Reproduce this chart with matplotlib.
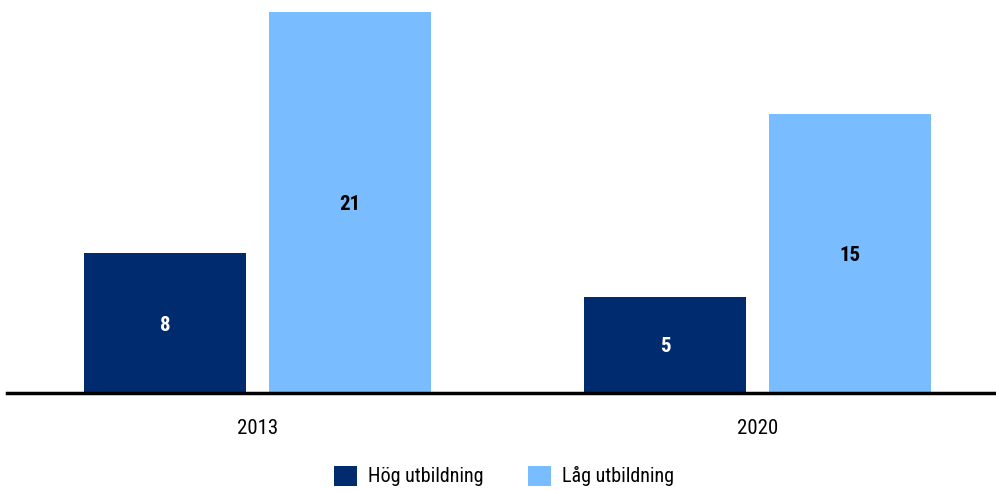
import matplotlib
matplotlib.use('Agg')
import matplotlib.pyplot as plt
from matplotlib import font_manager
import numpy as np

# pick a narrow family if one is installed
family = 'DejaVu Sans'
for cand in ['Roboto Condensed', 'Open Sans Condensed', 'Liberation Sans Narrow',
             'Noto Sans Condensed', 'Roboto', 'Liberation Sans']:
    try:
        font_manager.findfont(cand, fallback_to_default=False)
        family = cand
        break
    except Exception:
        pass
plt.rcParams['font.family'] = [family, 'DejaVu Sans']

years = ['2013', '2020']
hog = [7.7, 5.3]    # Hög utbildning
lag = [21.0, 15.4]  # Låg utbildning
series_names = ['Hög utbildning', 'Låg utbildning']

DARK = '#002B6E'
LIGHT = '#79BCFF'

fig = plt.figure(figsize=(9.96, 4.91), dpi=100)
ax = fig.add_axes([7 / 996, 98 / 491, 989 / 996, 381 / 491])

x = np.arange(len(years))
w = 0.324
off = 0.185
b1 = ax.bar(x - off, hog, w, color=DARK, label=series_names[0])
b2 = ax.bar(x + off, lag, w, color=LIGHT, label=series_names[1])

for bars, col in ((b1, 'white'), (b2, 'black')):
    for r in bars:
        h = r.get_height()
        ax.text(r.get_x() + r.get_width() / 2, h / 2, f'{h:.0f}',
                ha='center', va='center_baseline', color=col, fontsize=15,
                fontweight='bold')

ax.set_xlim(-0.501, 1.477)
ax.set_ylim(0, max(lag))
ax.set_xticks(x)
ax.set_xticklabels(years, fontsize=15)
ax.tick_params(axis='x', length=0, pad=19)
ax.set_yticks([])
for s in ['top', 'right', 'left']:
    ax.spines[s].set_visible(False)
ax.spines['bottom'].set_linewidth(2.5)
ax.spines['bottom'].set_color('black')

fig.legend(handles=[b1, b2], loc='center', bbox_to_anchor=(0.506, 1 - 476 / 491),
           ncol=2, frameon=False, fontsize=14.5, handlelength=1.15, handleheight=1.15,
           columnspacing=2.2, handletextpad=0.55)

fig.savefig('out.png', dpi=100)
